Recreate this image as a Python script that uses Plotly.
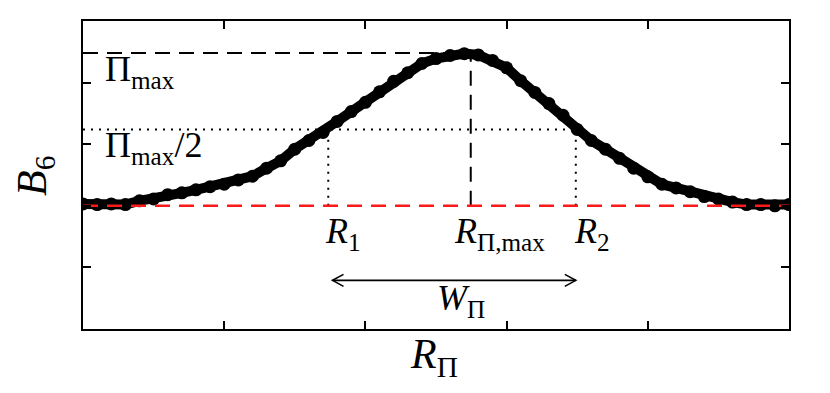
import plotly.graph_objects as go

# ---- data ----
r_pi = [0.0, 0.1, 0.2, 0.3, 0.4, 0.5, 0.6, 0.7, 0.8, 0.9,
        1.0, 1.1, 1.2, 1.3, 1.4, 1.5, 1.6, 1.7, 1.8, 1.9,
        2.0, 2.1, 2.2, 2.3, 2.4, 2.5, 2.6, 2.7, 2.8, 2.9,
        3.0, 3.1, 3.2, 3.3, 3.4, 3.5, 3.6, 3.7, 3.8, 3.9,
        4.0, 4.1, 4.2, 4.3, 4.4, 4.5, 4.6, 4.7, 4.8, 4.9, 5.0]
b6 = [2.03, 2.02, 2.03, 2.02, 2.08, 2.11, 2.18, 2.21, 2.26, 2.31,
      2.35, 2.42, 2.48, 2.61, 2.73, 2.92, 3.06, 3.19, 3.37, 3.53,
      3.68, 3.85, 4.02, 4.16, 4.31, 4.39, 4.44, 4.47, 4.45, 4.36,
      4.24, 4.03, 3.84, 3.66, 3.47, 3.24, 3.06, 2.92, 2.77, 2.61,
      2.47, 2.35, 2.29, 2.23, 2.15, 2.11, 2.06, 2.02, 2.02, 2.00, 2.02]

baseline = 2.0
pi_max = 4.48
half_level = 3.24
r_peak = 2.746
r1 = 1.737
r2 = 3.49
arrow_y = 0.79
x_range = [0, 5]
y_range = [0, 5]
tick_vals = [1, 2, 3, 4]

FONT = "Liberation Serif"

fig = go.Figure()

def line(xs, ys, color="black", width=2, dash="solid"):
    fig.add_trace(go.Scatter(x=xs, y=ys, mode="lines",
                             line=dict(color=color, width=width, dash=dash),
                             hoverinfo="skip", showlegend=False))

# reference lines
line([x_range[0], r_peak], [pi_max, pi_max], dash="15px,9px")
line([r_peak, r_peak], [baseline, pi_max], dash="15px,9px")
line([x_range[0], r2], [half_level, half_level], dash="2px,6px")
line([r1, r1], [baseline, half_level], dash="2px,6px")
line([r2, r2], [baseline, half_level], dash="2px,6px")

# data curve
fig.add_trace(go.Scatter(x=r_pi, y=b6, mode="lines+markers",
                         line=dict(color="black", width=10),
                         marker=dict(color="black", size=13),
                         hoverinfo="skip", showlegend=False))

# red baseline on top
line(x_range, [baseline, baseline], color="#ff1a1a", width=2.5, dash="15px,9px")

# double arrow for W_Pi
ax0 = r1 + 0.03
line([ax0, r2], [arrow_y, arrow_y], width=1.6)
shapes = [
    dict(type="path", xsizemode="pixel", ysizemode="pixel", xanchor=ax0, yanchor=arrow_y,
         path="M11,6 L0,0 L11,-6", line=dict(color="black", width=1.6)),
    dict(type="path", xsizemode="pixel", ysizemode="pixel", xanchor=r2, yanchor=arrow_y,
         path="M-11,6 L0,0 L-11,-6", line=dict(color="black", width=1.6)),
]

lab = dict(family=FONT, size=36, color="black")
annotations = [
    dict(x=0.14, y=4.18, text="Π<sub>max</sub>", xanchor="left", yanchor="middle"),
    dict(x=0.14, y=2.95, text="Π<sub>max</sub>/2", xanchor="left", yanchor="middle"),
    dict(x=1.70, y=1.55, text="<i>R</i><sub>1</sub>", xanchor="left", yanchor="middle"),
    dict(x=2.61, y=1.55, text="<i>R</i><sub>Π,max</sub>", xanchor="left", yanchor="middle"),
    dict(x=3.46, y=1.55, text="<i>R</i><sub>2</sub>", xanchor="left", yanchor="middle"),
    dict(x=2.68, y=0.47, text="<i>W</i><sub>Π</sub>", xanchor="center", yanchor="middle"),
]
for a in annotations:
    a.update(xref="x", yref="y", showarrow=False, font=lab)

title_font = dict(family=FONT, size=42, color="black")
annotations += [
    dict(xref="paper", yref="paper", x=0.497, y=-0.09, text="<i>R</i><sub>Π</sub>",
         showarrow=False, xanchor="center", yanchor="middle", font=title_font),
    dict(xref="paper", yref="paper", x=-0.068, y=0.497, text="<i>B</i><sub>6</sub>",
         showarrow=False, xanchor="center", yanchor="middle", textangle=-90, font=title_font),
]

axis_common = dict(showticklabels=False, ticks="inside", ticklen=8, tickwidth=2,
                   tickcolor="black", showline=True, linewidth=2, linecolor="black",
                   mirror="ticks", showgrid=False, zeroline=False, tickvals=tick_vals)

# page body adds an 8px margin, so the figure is sized and offset to compensate
fig.update_layout(
    width=814, height=377,
    margin=dict(l=75, r=33, t=11, b=56),
    paper_bgcolor="white", plot_bgcolor="white",
    xaxis=dict(range=x_range, **axis_common),
    yaxis=dict(range=y_range, **axis_common),
    shapes=shapes,
    annotations=annotations,
)

fig.write_html("out.html")
